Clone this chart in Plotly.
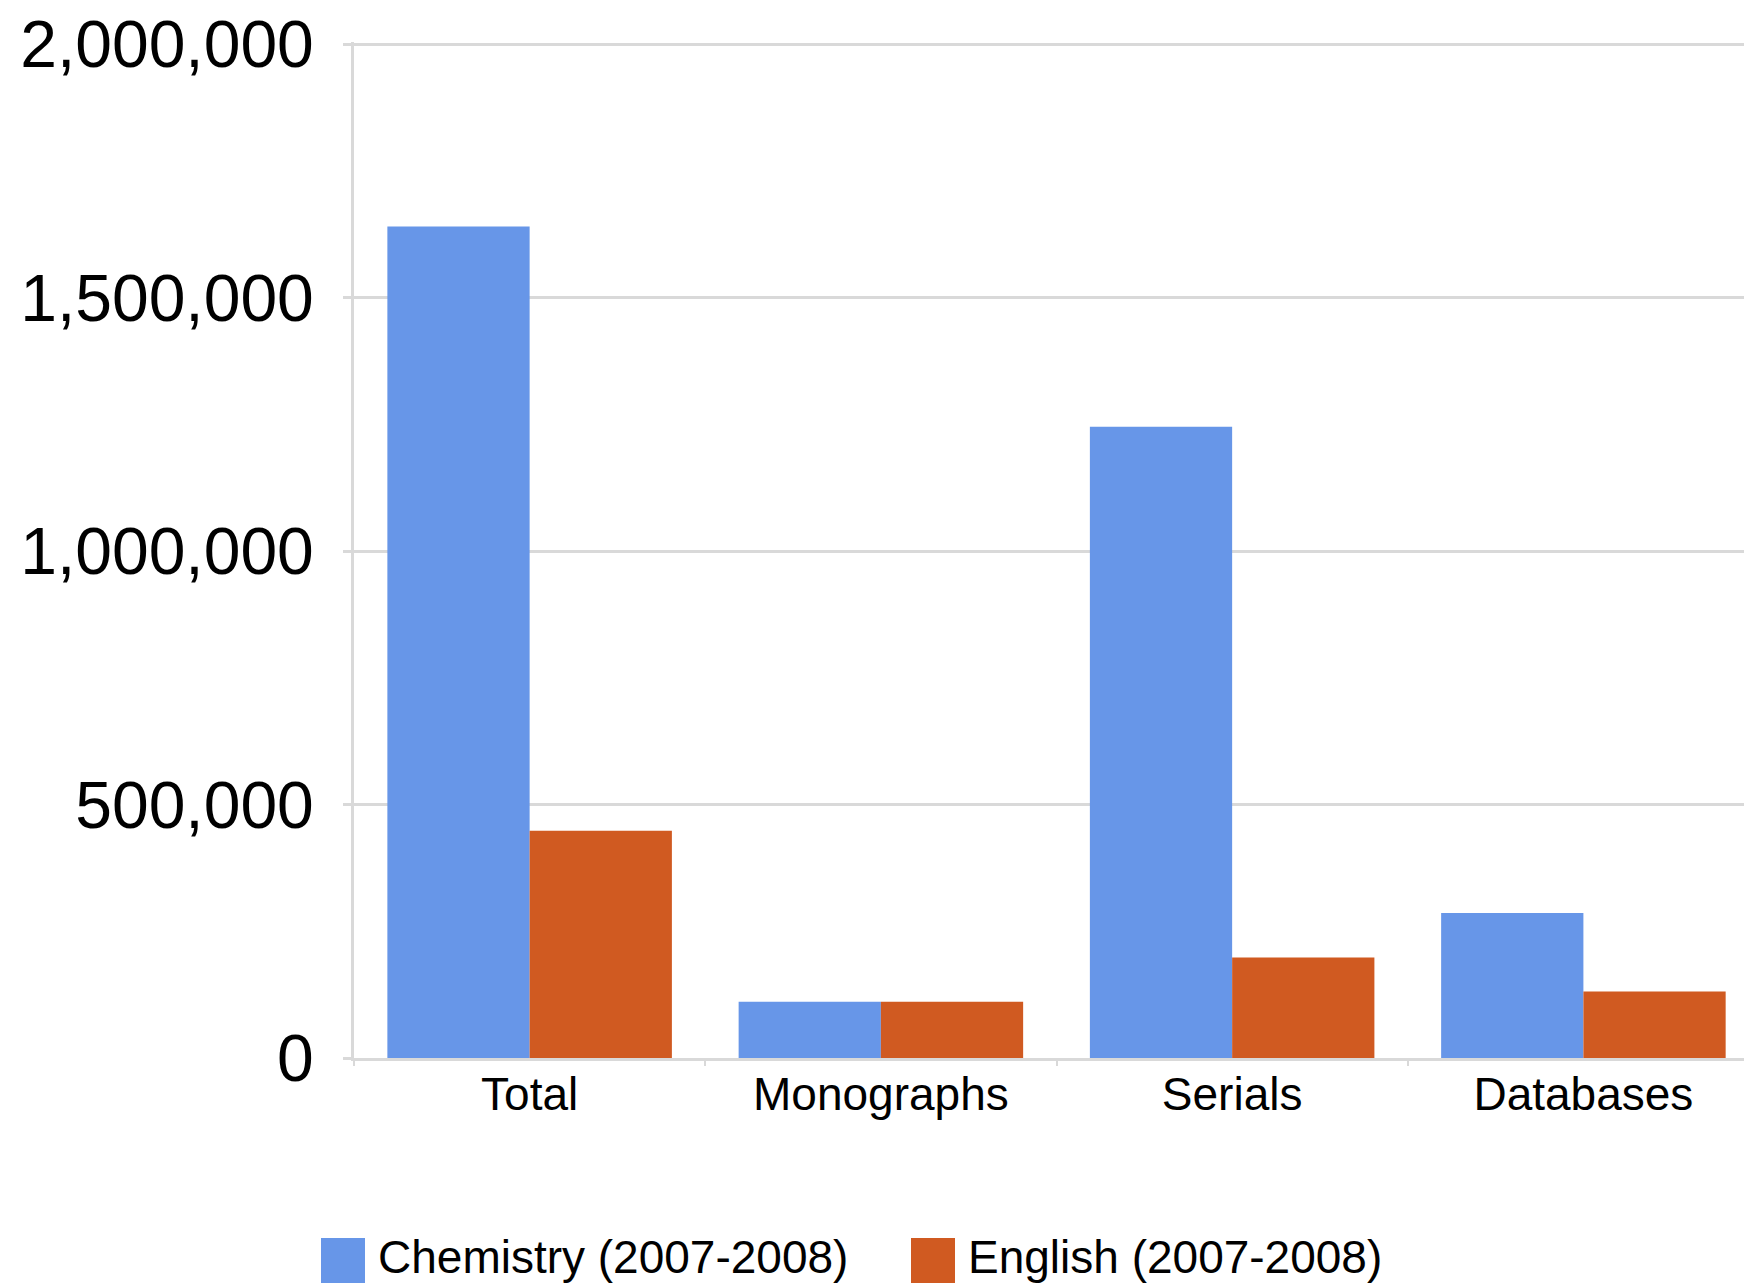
import plotly.graph_objects as go

categories = ["Total", "Monographs", "Serials", "Databases"]
chemistry = [1640000, 111000, 1245000, 286000]
english = [448000, 111000, 198000, 131000]
series_names = ["Chemistry (2007-2008)", "English (2007-2008)"]
y_ticks = [0, 500000, 1000000, 1500000, 2000000]

BLUE = "#6796e8"
ORANGE = "#d05a21"
GRID = "#d9d9d9"
FONT = "Liberation Sans, Arial, sans-serif"

# page body has an 8px margin, so the figure starts at (8, 8) on screen
OFF = 8
W, H = 1752 - OFF, 1285 - OFF
L, R, T, B = 354 - OFF, 0, 42 - OFF, 1285 - 1058


def px(x):
    # screen pixel x -> paper x
    return (x - OFF - L) / (W - L - R)


def py(y):
    # screen pixel y -> paper y
    return (H - B - (y - OFF)) / (H - T - B)


fig = go.Figure()
fig.add_trace(go.Bar(x=categories, y=chemistry, name=series_names[0], marker=dict(color=BLUE, line=dict(width=0))))
fig.add_trace(go.Bar(x=categories, y=english, name=series_names[1], marker=dict(color=ORANGE, line=dict(width=0))))

# legend drawn by hand so the swatches can be big
shapes = []
annotations = []
legend_items = [(BLUE, series_names[0], 321), (ORANGE, series_names[1], 911)]
for color, label, x0 in legend_items:
    shapes.append(dict(type="rect", xref="paper", yref="paper",
                       x0=px(x0), x1=px(x0 + 44), y0=py(1283), y1=py(1238),
                       fillcolor=color, line=dict(width=0)))
    annotations.append(dict(xref="paper", yref="paper", x=px(x0 + 55), y=py(1257),
                            text=label, showarrow=False, xanchor="left", yanchor="middle",
                            font=dict(family=FONT, size=46, color="#000000")))

fig.update_layout(
    width=W, height=H,
    margin=dict(l=L, r=R, t=T, b=B, pad=0),
    paper_bgcolor="white", plot_bgcolor="white",
    barmode="group", bargap=0.19, bargroupgap=0,
    showlegend=False,
    shapes=shapes, annotations=annotations,
    font=dict(family=FONT, color="#000000"),
)
fig.update_xaxes(
    range=[-0.5, 3.48], tickson="boundaries", ticks="outside", ticklen=5, tickwidth=2,
    tickcolor=GRID, showline=True, linecolor=GRID, linewidth=3,
    showgrid=False, tickfont=dict(size=46), ticklabelstandoff=-6,
)
fig.update_yaxes(
    range=[0, 2004000], tickvals=y_ticks, tickformat=",d", ticks="outside", ticklen=8,
    tickwidth=3, tickcolor=GRID, showline=True, linecolor=GRID, linewidth=3,
    showgrid=True, gridcolor=GRID, gridwidth=3, zeroline=False,
    tickfont=dict(size=66), ticklabelstandoff=16, ticklabeloverflow="allow",
)

fig.write_html("out.html")
